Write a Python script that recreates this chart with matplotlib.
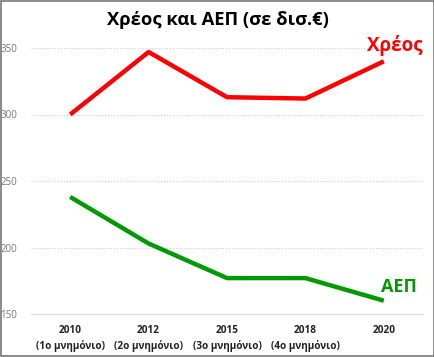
import matplotlib.pyplot as plt

years = ["2010\n(1ο μνημόνιο)", "2012\n(2ο μνημόνιο)", "2015\n(3ο μνημόνιο)",
         "2018\n(4ο μνημόνιο)", "2020"]
debt = [300, 347, 313, 312, 340]
gdp = [238, 203, 177, 177, 160]

plt.rcParams['font.family'] = ['Open Sans', 'DejaVu Sans']

fig = plt.figure(figsize=(4.35, 3.57), dpi=100)
ax = fig.add_axes([31 / 435, 1 - 314 / 357, 392 / 435, 266 / 357])

x = range(len(years))
ax.plot(x, debt, color='#ff0000', lw=3.2, solid_capstyle='butt')
ax.plot(x, gdp, color='#009a00', lw=3.2, solid_capstyle='butt')

ax.set_xlim(-0.5, len(years) - 0.5)
ax.set_ylim(150, 350)
ax.set_yticks([150, 200, 250, 300, 350])
ax.set_xticks(list(x))
ax.set_xticklabels(years, fontsize=7.2, fontweight='bold', color='#222222', linespacing=1.4)
ax.tick_params(axis='y', labelsize=7, colors='#777777', length=0, pad=10)
ax.tick_params(axis='x', length=0, pad=8)
for s in ['top', 'right', 'left']:
    ax.spines[s].set_visible(False)
ax.spines['bottom'].set_color('#dddddd')
ax.grid(axis='y', color='#cccccc', ls=':', lw=0.8)
ax.set_axisbelow(True)

ax.text(4.5, 352, "Χρέος", color='#ff0000', fontsize=13.5, fontweight='bold',
        ha='right', va='center')
ax.text(4.42, 170, "ΑΕΠ", color='#009a00', fontsize=13, fontweight='bold',
        ha='right', va='center')

fig.text(0.5, 1 - 20 / 357, "Χρέος και ΑΕΠ (σε δισ.€)", ha='center', va='center',
         fontsize=13.2, fontweight='bold')

fig.patches.append(plt.Rectangle((0.002, 0.002), 0.996, 0.996, transform=fig.transFigure,
                                 fill=False, edgecolor='#777777', lw=1.2))
fig.savefig("out.png", dpi=100)
